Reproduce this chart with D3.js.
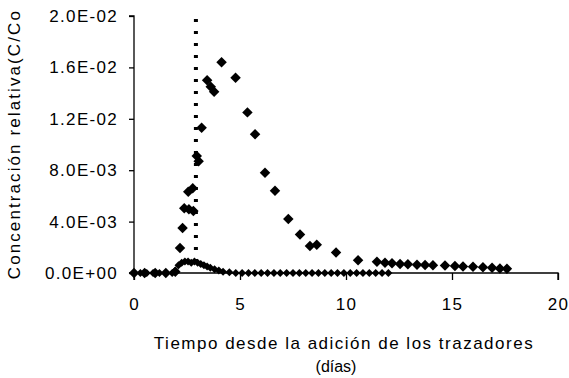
<!DOCTYPE html>
<html>
<head>
<meta charset="utf-8">
<script src="https://cdn.jsdelivr.net/npm/d3@7"></script>
<style>
  body { margin: 0; background: #fff; }
  svg { display: block; }
  text { font-family: "Liberation Sans", Arial, sans-serif; fill: #000; }
</style>
</head>
<body>
<div id="chart"></div>
<script>
// main tracer (large diamonds)
const tMain = [0, 0.5, 1.0, 1.5, 1.95, 2.17, 2.29, 2.37, 2.59, 2.8, 2.56, 2.77, 2.96, 3.05, 3.19, 3.45, 3.62, 3.78, 4.13, 4.79, 5.35, 5.71, 6.18, 6.65, 7.28, 7.83, 8.3, 8.62, 9.53, 10.57, 11.46, 11.84, 12.17, 12.55, 12.92, 13.35, 13.73, 14.1, 14.67, 15.14, 15.52, 15.99, 16.46, 16.89, 17.26, 17.59]
const cMain = [0, 0, 0, 0, 0.0001, 0.00195, 0.0035, 0.00503, 0.00496, 0.00482, 0.00633, 0.0066, 0.0091, 0.0087, 0.0113, 0.015, 0.0145, 0.0141, 0.0164, 0.0152, 0.0125, 0.0108, 0.0078, 0.0064, 0.0042, 0.003, 0.0021, 0.0022, 0.0016, 0.001, 0.00088, 0.0008, 0.00075, 0.0007, 0.00068, 0.00065, 0.00062, 0.0006, 0.00058, 0.00055, 0.0005, 0.00048, 0.00045, 0.0004, 0.00035, 0.00033]

// second tracer (small diamonds)
const tSecond = [0, 0.3, 0.6, 0.9, 1.2, 1.5, 1.8, 1.95, 2.1, 2.25, 2.4, 2.55, 2.7, 2.85, 3.0, 3.15, 3.3, 3.45, 3.6, 3.8, 4.0, 4.2, 4.5, 4.8, 5.1, 5.4, 5.7, 6.0, 6.3, 6.6, 6.9, 7.2, 7.5, 7.8, 8.1, 8.4, 8.7, 9.0, 9.3, 9.6, 9.9, 10.2, 10.5, 10.8, 11.1, 11.4, 11.7, 12.0]
const cSecond = [0, 0, 0, 0, 0, 0, 0, 0.0002, 0.0006, 0.0008, 0.0009, 0.0009, 0.0008, 0.0009, 0.0008, 0.0007, 0.0006, 0.0005, 0.0004, 0.0003, 0.0002, 0.0001, 0.00005, 0, 0, 0, 0, 0, 0, 0, 0, 0, 0, 0, 0, 0, 0, 0, 0, 0, 0, 0, 0, 0, 0, 0, 0, 0]

// vertical dotted reference (injection time)
const tReference = 2.92

const xTicks = [0, 5, 10, 15, 20]
const yTicks = [0, 0.004, 0.008, 0.012, 0.016, 0.02]
const yTickLabels = ['0.0E+00', '4.0E-03', '8.0E-03', '1.2E-02', '1.6E-02', '2.0E-02']

const width = 569
const height = 378
const margin = { top: 16, right: 11, bottom: 105, left: 134 }

const svg = d3.select('#chart').append('svg').attr('width', width).attr('height', height)
const plot = svg.append('g').attr('transform', `translate(${margin.left}, ${margin.top})`)

const innerW = width - margin.left - margin.right
const innerH = height - margin.top - margin.bottom

const x = d3.scaleLinear().domain([0, 20]).range([0, innerW])
const y = d3.scaleLinear().domain([0, 0.02]).range([innerH, 0])

const xAxis = d3.axisBottom(x).tickValues(xTicks).tickSize(7).tickPadding(18).tickFormat(d3.format('d'))
const yAxis = d3.axisLeft(y).tickValues(yTicks).tickSize(5).tickPadding(11).tickFormat((d, i) => yTickLabels[i])

const xAxisGroup = plot.append('g').attr('transform', `translate(0, ${innerH})`).call(xAxis)
const yAxisGroup = plot.append('g').call(yAxis)

svg.selectAll('.domain').attr('stroke', '#000').attr('stroke-width', 1.3)
svg.selectAll('.tick line').attr('stroke', '#000').attr('stroke-width', 1.3)
svg.selectAll('.tick text').attr('font-size', 17).attr('letter-spacing', '1.3px')
  .attr('font-family', '"Liberation Sans", Arial, sans-serif')
yAxisGroup.selectAll('.domain').attr('d', `M-5,${innerH}H0V0H-5`)
xAxisGroup.selectAll('.domain').attr('d', `M0,7V0H${innerW}V7`)

// square-rotated diamond like the spreadsheet marker
const diamond = {
  draw(ctx, size) {
    const r = Math.sqrt(size) / 2
    ctx.moveTo(0, -r)
    ctx.lineTo(r, 0)
    ctx.lineTo(0, r)
    ctx.lineTo(-r, 0)
    ctx.closePath()
  }
}

plot.append('line')
  .attr('x1', x(tReference)).attr('x2', x(tReference))
  .attr('y1', y(0.02) + 3).attr('y2', y(0.0008))
  .attr('stroke', '#000').attr('stroke-width', 4)
  .attr('stroke-dasharray', '3,9')

const second = tSecond.map((t, i) => ({ t: t, c: cSecond[i] }))
const main = tMain.map((t, i) => ({ t: t, c: cMain[i] }))

plot.append('g').selectAll('path').data(second).enter().append('path')
  .attr('d', d3.symbol().type(diamond).size(64))
  .attr('transform', d => `translate(${x(d.t)}, ${y(d.c)})`)
  .attr('fill', '#000')

plot.append('g').selectAll('path').data(main).enter().append('path')
  .attr('d', d3.symbol().type(diamond).size(110))
  .attr('transform', d => `translate(${x(d.t)}, ${y(d.c)})`)
  .attr('fill', '#000')

svg.append('text')
  .attr('x', 344).attr('y', 349)
  .attr('text-anchor', 'middle').attr('font-size', 17).attr('letter-spacing', '1.5px')
  .text('Tiempo desde la adición de los trazadores')

svg.append('text')
  .attr('x', 336).attr('y', 372)
  .attr('text-anchor', 'middle').attr('font-size', 16)
  .text('(días)')

svg.append('text')
  .attr('transform', 'translate(20, 9) rotate(-90)')
  .attr('text-anchor', 'end').attr('font-size', 17).attr('letter-spacing', '2.1px')
  .text('Concentración relativa(C/Co')
</script>
</body>
</html>
